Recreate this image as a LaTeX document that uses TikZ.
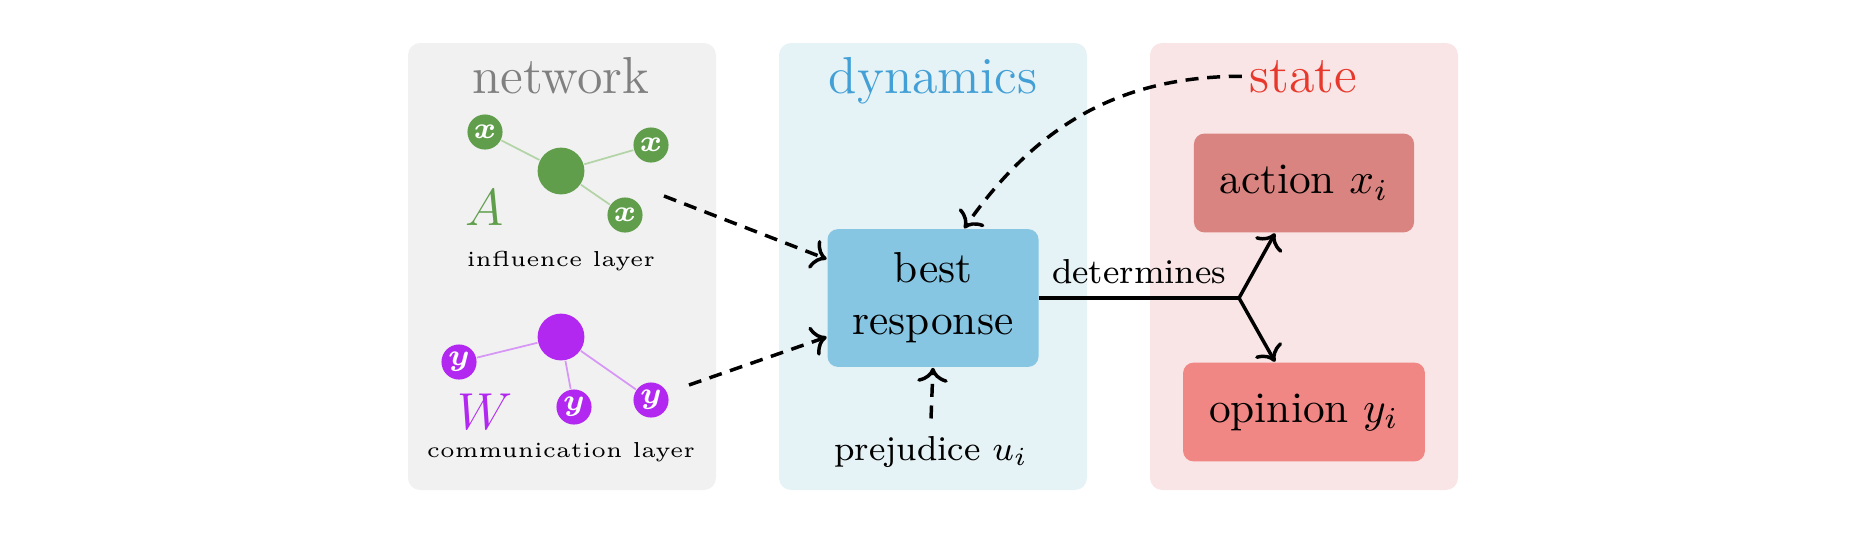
\documentclass[tikz,border=0pt]{standalone}
\usetikzlibrary{arrows.meta}
\definecolor{netgreen}{RGB}{96,158,76}
\definecolor{netgreenl}{RGB}{178,212,166}
\definecolor{netpurple}{RGB}{178,40,240}
\definecolor{netpurplel}{RGB}{214,150,246}
\definecolor{panelgray}{RGB}{241,241,241}
\definecolor{panelblue}{RGB}{229,242,246}
\definecolor{panelred}{RGB}{249,229,229}
\definecolor{titlegray}{RGB}{128,128,128}
\definecolor{titleblue}{RGB}{66,160,214}
\definecolor{titlered}{RGB}{232,55,43}
\definecolor{bestfill}{RGB}{135,198,227}
\definecolor{actfill}{RGB}{217,132,128}
\definecolor{opfill}{RGB}{240,135,132}
\tikzset{
  panel/.style={rounded corners=2.8pt, draw=none},
  ptitle/.style={font=\large, anchor=base, inner xsep=1.5pt},
  bigbox/.style={rounded corners=2.4pt, align=center, font=\normalsize, inner sep=0pt},
  smallnode/.style={circle, inner sep=0pt, minimum size=8.1pt, text=white, font=\scriptsize\boldmath},
  hubnode/.style={circle, inner sep=0pt, minimum size=10.8pt},
  gedge/.style={netgreenl, line width=0.4pt},
  pedge/.style={netpurplel, line width=0.4pt},
  dasharrow/.style={->, thick, dash pattern=on 3pt off 2pt},
  solidarrow/.style={->, thick},
}
\begin{document}
\begin{tikzpicture}[x=0.2308pt,y=-0.2308pt]
\useasboundingbox (0,0) rectangle (1870,536);
% panels
\fill[panel, panelgray] (408,43) rectangle (716,490);
\fill[panel, panelblue] (779,43) rectangle (1087,490);
\fill[panel, panelred] (1150,43) rectangle (1458,490);
% titles
\node[ptitle, text=titlegray] (nettitle) at (561,93) {network};
\node[ptitle, text=titleblue] (dyntitle) at (933,93) {dynamics};
\node[ptitle, text=titlered] (state) at (1303,92) {state};
% influence layer
\node[hubnode, fill=netgreen] (ghub) at (561,171) {};
\node[smallnode, fill=netgreen] (gx1) at (485,132) {$x$};
\node[smallnode, fill=netgreen] (gx2) at (651,145) {$x$};
\node[smallnode, fill=netgreen] (gx3) at (625,215) {$x$};
\draw[gedge] (ghub) -- (gx1);
\draw[gedge] (ghub) -- (gx2);
\draw[gedge] (ghub) -- (gx3);
\node[anchor=base, text=netgreen, font=\fontsize{11.5}{13}\selectfont] (Alab) at (485,225) {$A$};
\node[anchor=base, font=\tiny] (infl) at (561,266) {influence layer};
% communication layer
\node[hubnode, fill=netpurple] (phub) at (561,337) {};
\node[smallnode, fill=netpurple] (py1) at (459,362) {$y$};
\node[smallnode, fill=netpurple] (py2) at (574,407) {$y$};
\node[smallnode, fill=netpurple] (py3) at (651,400) {$y$};
\draw[pedge] (phub) -- (py1);
\draw[pedge] (phub) -- (py2);
\draw[pedge] (phub) -- (py3);
\node[anchor=base, text=netpurple, font=\fontsize{11.5}{13}\selectfont] (Wlab) at (485,429) {$W$};
\node[anchor=base, font=\tiny] (comm) at (561,457) {communication layer};
% dynamics
\node[bigbox, fill=bestfill, minimum width=48.7pt, minimum height=31.8pt] (best) at (933,298) {best\\response};
\node[anchor=base, font=\footnotesize] (prej) at (931,460) {prejudice $u_i$};
% state
\node[bigbox, fill=actfill, minimum width=50.8pt, minimum height=22.8pt] (action) at (1304,183) {action $x_i$};
\node[bigbox, fill=opfill, minimum width=55.8pt, minimum height=22.8pt] (opinion) at (1304,412) {opinion $y_i$};
% connectors
\coordinate (inflout) at (664,196);
\coordinate (commout) at (689,385);
\coordinate (fork) at (1239,298);
\draw[dasharrow] (inflout) -- ([yshift=9pt]best.west);
\draw[dasharrow] (commout) -- ([yshift=-9pt]best.west);
\draw[dasharrow] ([yshift=0.5pt]prej.north) -- (best.south);
\draw[dasharrow] (state.west) to[out=180,in=55] ([xshift=7.2pt]best.north);
\draw[thick] (best.east) -- node[above, font=\footnotesize, yshift=-0.5pt] (detlab) {determines} (fork);
\draw[solidarrow] (fork) -- (action.-120);
\draw[solidarrow] (fork) -- (opinion.120);
\end{tikzpicture}
\end{document}
